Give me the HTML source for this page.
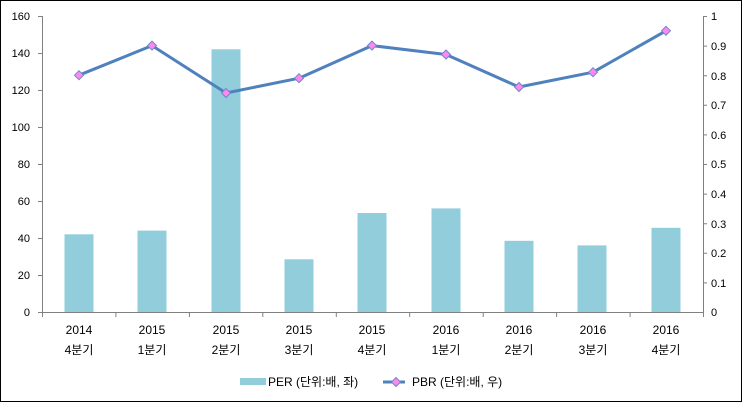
<!DOCTYPE html>
<html><head><meta charset="utf-8"><style>
html,body{margin:0;padding:0;background:#fff;}
svg{display:block;font-family:"Liberation Sans","Noto Sans CJK KR",sans-serif;}
</style></head><body>
<svg width="743" height="403" viewBox="0 0 743 403" xmlns="http://www.w3.org/2000/svg">
<rect x="0.5" y="0.5" width="741" height="401" fill="#fff" stroke="#000" stroke-width="1"/>
<g fill="#92CDDC">
<rect x="64.5" y="234.3" width="29" height="77.7"/>
<rect x="137.5" y="230.6" width="29" height="81.4"/>
<rect x="211.5" y="49.3" width="29" height="262.7"/>
<rect x="284.5" y="259.3" width="29" height="52.7"/>
<rect x="357.5" y="213" width="29" height="99"/>
<rect x="431.5" y="208.4" width="29" height="103.6"/>
<rect x="504.5" y="240.8" width="29" height="71.2"/>
<rect x="577.5" y="245.4" width="29" height="66.6"/>
<rect x="651.5" y="227.8" width="29" height="84.2"/>
</g>
<g stroke="#808080" stroke-width="1" fill="none">
<path d="M42.5 16V312.5H703.5V16"/>
<path d="M38 16.5H42M38 53.5H42M38 90.5H42M38 127.5H42M38 164.5H42M38 201.5H42M38 238.5H42M38 275.5H42M38 312.5H42"/>
<path d="M703 16.5H707M703 46.1H707M703 75.7H707M703 105.3H707M703 134.9H707M703 164.5H707M703 194.1H707M703 223.7H707M703 253.3H707M703 282.9H707"/>
<path d="M42.5 312V317M115.9 312V317M189.4 312V317M262.8 312V317M336.3 312V317M409.7 312V317M483.2 312V317M556.6 312V317M630.1 312V317M703.5 312V317"/>
</g>
<g font-size="11" fill="#000" text-anchor="end">
<text x="30" y="20">160</text><text x="30" y="57">140</text><text x="30" y="94">120</text><text x="30" y="131">100</text>
<text x="30" y="168">80</text><text x="30" y="205">60</text><text x="30" y="242">40</text><text x="30" y="279">20</text><text x="30" y="316">0</text>
</g>
<g font-size="11" fill="#000">
<text x="711" y="20">1</text><text x="711" y="50">0.9</text><text x="711" y="80">0.8</text><text x="711" y="109">0.7</text>
<text x="711" y="139">0.6</text><text x="711" y="168">0.5</text><text x="711" y="198">0.4</text><text x="711" y="228">0.3</text>
<text x="711" y="257">0.2</text><text x="711" y="287">0.1</text><text x="711" y="316">0</text>
</g>
<g font-size="12" fill="#000" text-anchor="middle">
<text x="79" y="334">2014</text><text x="79" y="354">4분기</text>
<text x="152" y="334">2015</text><text x="152" y="354">1분기</text>
<text x="226" y="334">2015</text><text x="226" y="354">2분기</text>
<text x="299" y="334">2015</text><text x="299" y="354">3분기</text>
<text x="372" y="334">2015</text><text x="372" y="354">4분기</text>
<text x="446" y="334">2016</text><text x="446" y="354">1분기</text>
<text x="519" y="334">2016</text><text x="519" y="354">2분기</text>
<text x="593" y="334">2016</text><text x="593" y="354">3분기</text>
<text x="666" y="334">2016</text><text x="666" y="354">4분기</text>
</g>
<polyline fill="none" stroke="#4F81BD" stroke-width="3" stroke-linejoin="round" points="79,75.2 152,45.6 226,93 299,78.2 372,45.6 446,54.5 519,87 593,72.2 666,30.8"/>
<g fill="#FF88EE" stroke="#6F86C8" stroke-width="1">
<path d="M79 70.7L83.5 75.2L79 79.7L74.5 75.2Z"/>
<path d="M152 41.1L156.5 45.6L152 50.1L147.5 45.6Z"/>
<path d="M226 88.5L230.5 93L226 97.5L221.5 93Z"/>
<path d="M299 73.7L303.5 78.2L299 82.7L294.5 78.2Z"/>
<path d="M372 41.1L376.5 45.6L372 50.1L367.5 45.6Z"/>
<path d="M446 50L450.5 54.5L446 59L441.5 54.5Z"/>
<path d="M519 82.5L523.5 87L519 91.5L514.5 87Z"/>
<path d="M593 67.7L597.5 72.2L593 76.7L588.5 72.2Z"/>
<path d="M666 26.3L670.5 30.8L666 35.3L661.5 30.8Z"/>
</g>
<rect x="240" y="378" width="26" height="7" fill="#92CDDC"/>
<text x="268" y="386" font-size="12">PER (단위:배, 좌)</text>
<line x1="383" y1="382" x2="405" y2="382" stroke="#4F81BD" stroke-width="3"/>
<path d="M396 377.5L400.5 382L396 386.5L391.5 382Z" fill="#FF88EE" stroke="#6F86C8"/>
<text x="412" y="386" font-size="12">PBR (단위:배, 우)</text>
</svg>
</body></html>
